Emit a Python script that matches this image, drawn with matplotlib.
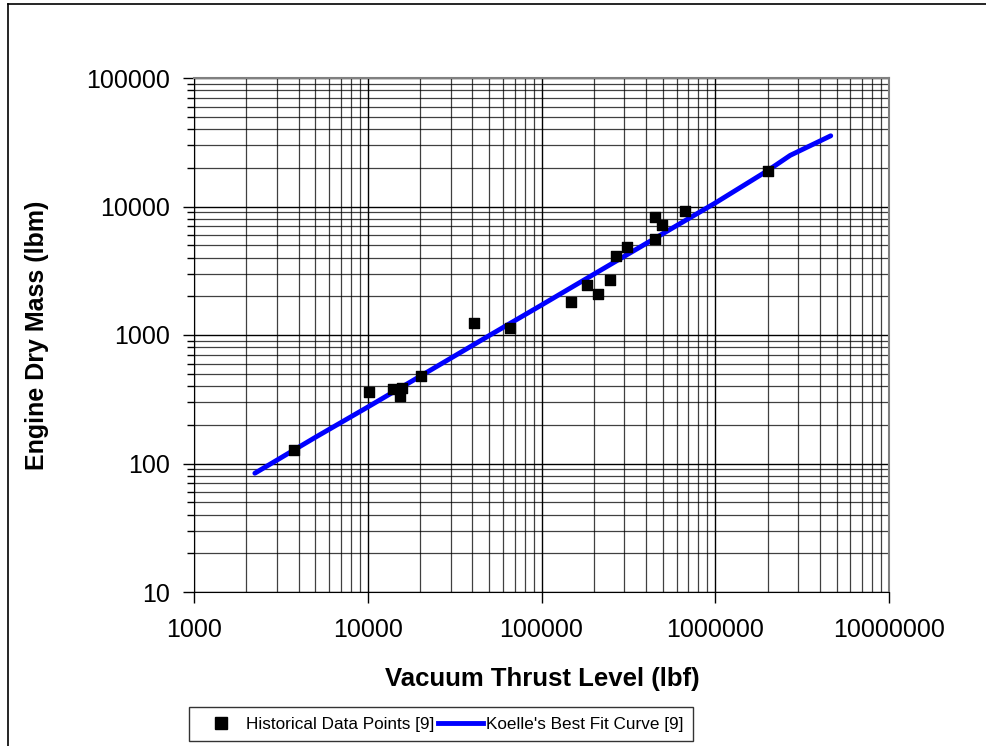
import matplotlib.pyplot as plt
from matplotlib.ticker import LogLocator, FixedLocator, NullFormatter
from matplotlib.lines import Line2D

plt.rcParams['font.family'] = ['Liberation Sans', 'DejaVu Sans']

# historical engines: vacuum thrust (lbf) vs dry mass (lbm)
hist_thrust = [3760, 10200, 14000, 15700, 15300, 20300, 40900, 65900,
               148000, 182000, 212000, 248000, 267000, 312000,
               448000, 448000, 492000, 670000, 2010000]
hist_mass = [127, 360, 380, 387, 335, 480, 1240, 1130,
             1810, 2460, 2100, 2700, 4120, 4810,
             5590, 8330, 7140, 9180, 19000]

# Koelle's best fit curve
fit_thrust = [2240, 5000, 10000, 20000, 50000, 100000, 200000, 500000,
              1000000, 2000000, 2700000, 4620000]
fit_mass = [84, 160, 275, 477, 990, 1710, 2970, 6150,
            10650, 19000, 25000, 35500]

x_ticks = [1e3, 1e4, 1e5, 1e6, 1e7]
x_labels = ['1000', '10000', '100000', '1000000', '10000000']
y_ticks = [10, 100, 1e3, 1e4, 1e5]
y_labels = ['10', '100', '1000', '10000', '100000']

fig = plt.figure(figsize=(9.86, 7.46), dpi=100)
ax = fig.add_axes([194 / 986, 1 - 592 / 746, 695 / 986, 514 / 746])

ax.plot(fit_thrust, fit_mass, color='#0000ff', lw=3.5, solid_capstyle='round',
        zorder=3)
ax.scatter(hist_thrust, hist_mass, marker='s', s=55, color='black', zorder=4)

ax.set_xscale('log')
ax.set_yscale('log')
ax.set_xlim(1000, 1e7)
ax.set_ylim(10, 1e5)

ax.xaxis.set_major_locator(FixedLocator(x_ticks))
ax.yaxis.set_major_locator(FixedLocator(y_ticks))
ax.set_xticklabels(x_labels)
ax.set_yticklabels(y_labels)
ax.xaxis.set_minor_locator(LogLocator(base=10, subs=range(2, 10), numticks=20))
ax.yaxis.set_minor_locator(LogLocator(base=10, subs=range(2, 10), numticks=20))
ax.xaxis.set_minor_formatter(NullFormatter())
ax.yaxis.set_minor_formatter(NullFormatter())

ax.grid(which='major', color='black', lw=1.0)
ax.grid(which='minor', color='black', lw=0.9, alpha=0.75)
ax.set_axisbelow(True)

ax.tick_params(axis='both', which='major', direction='out', length=8,
               width=1, labelsize=18)
ax.tick_params(axis='x', which='major', pad=11)
ax.tick_params(axis='y', which='major', pad=9)
ax.tick_params(axis='y', which='minor', direction='out', length=5, width=1)
ax.tick_params(axis='x', which='minor', length=0)

for side in ['top', 'right']:
    ax.spines[side].set_color('gray')
    ax.spines[side].set_linewidth(1.5)
for side in ['left', 'bottom']:
    ax.spines[side].set_color('black')

fig.text(542 / 986, 1 - 679 / 746, 'Vacuum Thrust Level (lbf)', fontsize=18.5,
         fontweight='bold', ha='center', va='center')
fig.text(37 / 986, 1 - 335 / 746, 'Engine Dry Mass (lbm)', fontsize=18,
         fontweight='bold', ha='center', va='center', rotation=90)

handles = [
    Line2D([], [], marker='s', ls='none', color='black', markersize=8),
    Line2D([], [], color='#0000ff', lw=3.5),
]
fig.legend(handles, ["Historical Data Points [9]", "Koelle's Best Fit Curve [9]"],
           loc='center', bbox_to_anchor=(441 / 986, 1 - 724 / 746), ncol=2,
           fontsize=12.3, frameon=True, fancybox=False, edgecolor='black',
           handlelength=2.6, columnspacing=0.2, handletextpad=0.2,
           borderpad=0.55, borderaxespad=0)

# outer chart border (only left and top edges fall inside the image)
fig.add_artist(Line2D([8 / 986, 8 / 986], [0, 1 - 4 / 746], color='black',
                      lw=1.2, transform=fig.transFigure))
fig.add_artist(Line2D([8 / 986, 1], [1 - 4 / 746, 1 - 4 / 746], color='black',
                      lw=1.2, transform=fig.transFigure))

fig.savefig('out.png', dpi=100)
